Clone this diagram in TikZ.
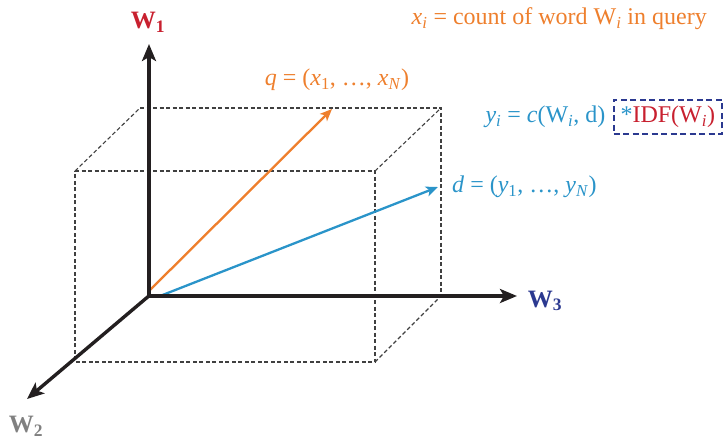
\documentclass[tikz,border=0pt]{standalone}
\usepackage{fontspec}
\setmainfont{Liberation Serif}
\usetikzlibrary{arrows.meta}
\definecolor{qorange}{HTML}{EE7F2D}
\definecolor{dblue}{HTML}{2A94C9}
\definecolor{wred}{HTML}{C8202F}
\definecolor{wnavy}{HTML}{2B3990}
\definecolor{wgrey}{HTML}{808080}
\definecolor{axisblack}{HTML}{231F20}
\newcommand{\vsub}[1]{\textsubscript{#1}}
\begin{document}
\begin{tikzpicture}[x=1pt,y=-1pt,
  axis/.style={line width=3.4pt,axisblack,-{Stealth[length=17pt,width=14pt,inset=4pt]}},
  vec/.style={line width=2.3pt,-{Stealth[length=12pt,width=10pt,inset=3pt]}},
  boxline/.style={dash pattern=on 4pt off 2.5pt,line width=1.1pt,black!75},
  lbl/.style={inner sep=0pt,font=\fontsize{24}{28}\selectfont},
  axlbl/.style={inner sep=0pt,font=\fontsize{25}{30}\selectfont\bfseries}]
\useasboundingbox (0,0) rectangle (728,442);
% coordinates
\coordinate (O) at (149,296);
\coordinate (ftl) at (75,171);
\coordinate (ftr) at (375,171);
\coordinate (fbl) at (75,362);
\coordinate (fbr) at (375,362);
\coordinate (btl) at (140,108);
\coordinate (btr) at (441,108);
\coordinate (bbr) at (441,296);
% dashed box
\draw[boxline] (ftl) -- (ftr) -- (fbr) -- (fbl) -- cycle;
\draw[boxline] (btl) -- (btr) -- (bbr);
\draw[boxline] (ftl) -- (btl);
\draw[boxline] (ftr) -- (btr);
\draw[boxline] (fbr) -- (bbr);
% vectors
\coordinate (qs) at (149,291);
\coordinate (qt) at (332,109);
\coordinate (ds) at (160,296);
\coordinate (dt) at (438,187);
\draw[vec,qorange] (qs) -- (qt);
\draw[vec,dblue] (ds) -- (dt);
% axes
\coordinate (w1t) at (149,44);
\coordinate (w2t) at (27,399);
\coordinate (w3t) at (517,296);
\draw[axis] (O) -- (w1t);
\draw[axis] (O) -- (w3t);
\draw[axis] ([shift={(1,-1)}]O) -- (w2t);
% axis labels
\node[axlbl,text=wred] (w1) at (148,22) {W\vsub{1}};
\node[axlbl,text=wgrey] (w2) at (26,426) {W\vsub{2}};
\node[axlbl,text=wnavy] (w3) at (545,301) {W\vsub{3}};
% vector labels
\node[lbl,text=qorange] (ql) at (337,80) {\textit{q} = (\textit{x}\vsub{1}, …, \textit{x}\vsub{\textit{N}})};
\node[lbl,text=dblue,anchor=west] (dl) at (452,187) {\textit{d} = (\textit{y}\vsub{1}, …, \textit{y}\vsub{\textit{N}})};
% top formula
\node[lbl,text=qorange,anchor=east] (xl) at (707,19) {\textit{x}\vsub{\textit{i}} = count of word W\vsub{\textit{i}} in query};
% y formula
\node[lbl,text=wred,draw=wnavy,dash pattern=on 6pt off 3.5pt,line width=2pt,inner xsep=7pt,inner ysep=6pt,anchor=east] (idf) at (723,117) {\textcolor{dblue}{*}IDF(W\vsub{\textit{i}})};
\node[lbl,text=dblue,anchor=east] (yl) at ([xshift=-7pt]idf.west) {\textit{y}\vsub{\textit{i}} = \textit{c}(W\vsub{\textit{i}}, d)};
\end{tikzpicture}
\end{document}
